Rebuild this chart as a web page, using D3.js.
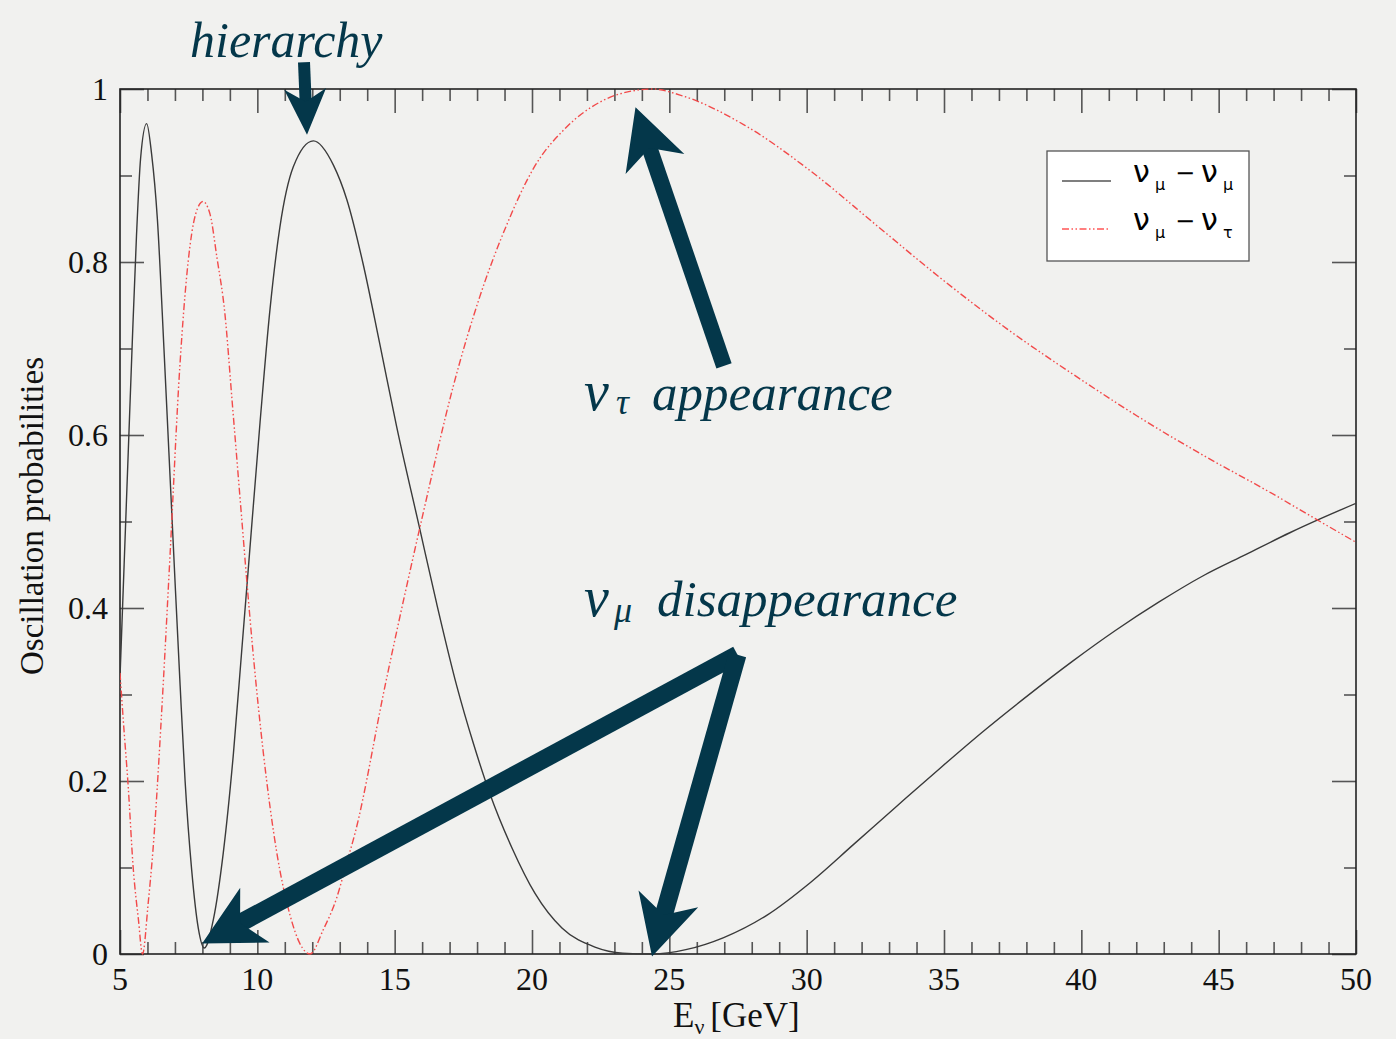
<!DOCTYPE html>
<html>
<head>
<meta charset="utf-8">
<script src="https://cdn.jsdelivr.net/npm/d3@7"></script>
<style>
  html, body { margin: 0; padding: 0; background: #f1f1ef; }
  svg { display: block; }
</style>
</head>
<body>
<svg id="chart" width="1396" height="1039"></svg>
<script>
// Neutrino energy (GeV) and survival probability P(nu_mu -> nu_mu)
const energyMuMu = [5.00, 5.15, 5.30, 5.45, 5.60, 5.75, 5.97, 6.15, 6.36, 6.60, 6.78, 6.90, 7.02, 7.19, 7.37, 7.61, 7.85, 8.07, 8.40, 8.76, 9.13, 9.43, 9.67, 10.10, 10.46, 10.82, 11.31, 12.04, 12.77, 13.26, 13.85, 14.46, 15.07, 15.91, 16.53, 17.26, 17.87, 18.47, 19.28, 20.11, 21.09, 22.29, 23.30, 24.40, 25.60, 26.98, 28.56, 30.15, 31.72, 33.32, 34.90, 36.49, 38.06, 39.66, 41.24, 42.83, 44.42, 46.00, 47.59, 48.69, 50.00];
const probMuMu   = [0.320, 0.450, 0.580, 0.710, 0.830, 0.920, 0.960, 0.925, 0.850, 0.700, 0.580, 0.500, 0.420, 0.310, 0.200, 0.097, 0.030, 0.007, 0.040, 0.117, 0.232, 0.350, 0.445, 0.615, 0.745, 0.840, 0.910, 0.940, 0.912, 0.872, 0.798, 0.705, 0.610, 0.492, 0.405, 0.310, 0.243, 0.185, 0.122, 0.070, 0.030, 0.008, 0.001, 0.000, 0.005, 0.019, 0.045, 0.083, 0.127, 0.172, 0.216, 0.259, 0.299, 0.338, 0.374, 0.407, 0.437, 0.462, 0.487, 0.503, 0.521];

// Appearance probability P(nu_mu -> nu_tau)
const energyMuTau = [5.00, 5.12, 5.30, 5.48, 5.67, 5.82, 6.03, 6.20, 6.57, 6.82, 7.18, 7.48, 7.75, 8.02, 8.28, 8.53, 8.82, 9.08, 9.44, 9.62, 9.84, 10.21, 10.72, 11.19, 11.55, 11.92, 12.40, 12.89, 13.25, 13.56, 14.65, 16.04, 17.13, 18.10, 19.08, 20.05, 21.26, 22.48, 23.69, 24.40, 25.39, 27.75, 30.15, 32.52, 34.89, 37.28, 39.66, 42.03, 44.41, 46.80, 48.69, 50.00];
const probMuTau   = [0.325, 0.270, 0.193, 0.100, 0.040, 0.000, 0.060, 0.120, 0.310, 0.460, 0.680, 0.800, 0.855, 0.870, 0.855, 0.805, 0.740, 0.640, 0.500, 0.430, 0.350, 0.235, 0.115, 0.045, 0.012, 0.000, 0.028, 0.065, 0.105, 0.140, 0.310, 0.510, 0.656, 0.760, 0.843, 0.908, 0.956, 0.985, 0.998, 1.000, 0.993, 0.958, 0.905, 0.843, 0.781, 0.723, 0.671, 0.622, 0.577, 0.535, 0.500, 0.476];

// Axis ticks
const xTickLabels = [5, 10, 15, 20, 25, 30, 35, 40, 45, 50];
const xMinorTicks = d3.range(5, 51, 1);
const yTickLabels = [0, 0.2, 0.4, 0.6, 0.8, 1];
const yMinorTicks = d3.range(0, 1.0001, 0.1).map(v => +v.toFixed(1));

// Legend entries
const legendFrom = ["ν", "ν"];
const legendTo   = ["μ", "τ"];

// Annotation arrows, endpoints in data units [E, P]
const arrowHierarchy   = { from: [11.70, 1.031], to: [11.81, 0.947], shaft: 12 };
const arrowAppearance  = { from: [26.99, 0.680], to: [23.77, 0.979], shaft: 16 };
const arrowDisappLow   = { from: [27.48, 0.346], to: [7.99, 0.012], shaft: 18 };
const arrowDisappHigh  = { from: [27.48, 0.346], to: [24.37, -0.003], shaft: 18 };

const svg = d3.select("#chart");
const W = 1396, H = 1039;
const plot = { left: 120, right: 1356, top: 89, bottom: 954 };

const x = d3.scaleLinear().domain([5, 50]).range([plot.left, plot.right]);
const y = d3.scaleLinear().domain([0, 1]).range([plot.bottom, plot.top]);

svg.append("rect").attr("width", W).attr("height", H).attr("fill", "#f1f1ef");

const serif = "'Liberation Serif', 'Times New Roman', serif";
const ink = "#04374a";

// Ticks (inward on all four sides)
const tickColor = "#555";
function ticks(axisFn, values, size, transform) {
  svg.append("g")
    .attr("transform", transform)
    .call(axisFn.tickValues(values).tickSizeInner(-size).tickSizeOuter(0).tickFormat(""))
    .call(g => g.select(".domain").remove())
    .call(g => g.selectAll("line").attr("stroke", tickColor).attr("stroke-width", 1.6));
}
const xMinor = xMinorTicks.filter(v => v % 5 !== 0);
const yMinor = yMinorTicks.filter(v => Math.round(v * 10) % 2 !== 0);
ticks(d3.axisBottom(x), xMinor, 12, `translate(0,${plot.bottom})`);
ticks(d3.axisBottom(x), xTickLabels, 24, `translate(0,${plot.bottom})`);
ticks(d3.axisTop(x), xMinor, 12, `translate(0,${plot.top})`);
ticks(d3.axisTop(x), xTickLabels, 24, `translate(0,${plot.top})`);
ticks(d3.axisLeft(y), yMinor, 12, `translate(${plot.left},0)`);
ticks(d3.axisLeft(y), yTickLabels, 24, `translate(${plot.left},0)`);
ticks(d3.axisRight(y), yMinor, 12, `translate(${plot.right},0)`);
ticks(d3.axisRight(y), yTickLabels, 24, `translate(${plot.right},0)`);

// Frame
svg.append("rect")
  .attr("x", plot.left).attr("y", plot.top)
  .attr("width", plot.right - plot.left).attr("height", plot.bottom - plot.top)
  .attr("fill", "none").attr("stroke", "#222").attr("stroke-width", 1.6);

// Tick labels
svg.append("g").selectAll("text").data(xTickLabels).join("text")
  .attr("x", d => x(d)).attr("y", 990)
  .attr("text-anchor", "middle")
  .attr("font-family", serif).attr("font-size", 32).attr("fill", "#111")
  .text(d => d);
svg.append("g").selectAll("text").data(yTickLabels).join("text")
  .attr("x", 108).attr("y", d => y(d) + 11)
  .attr("text-anchor", "end")
  .attr("font-family", serif).attr("font-size", 32).attr("fill", "#111")
  .text(d => d3.format("")(d));

// Axis titles
const xt = svg.append("text").attr("x", 673).attr("y", 1027)
  .attr("font-family", serif).attr("font-size", 35).attr("fill", "#111");
xt.append("tspan").text("E");
xt.append("tspan").attr("font-size", 22).attr("dy", 7).text("ν");
xt.append("tspan").attr("dy", -7).attr("dx", 6).text("[GeV]");

svg.append("text")
  .attr("transform", "translate(43,516) rotate(-90)")
  .attr("text-anchor", "middle")
  .attr("font-family", serif).attr("font-size", 33).attr("fill", "#111")
  .text("Oscillation probabilities");

// Curves
svg.append("clipPath").attr("id", "plotClip").append("rect")
  .attr("x", plot.left).attr("y", plot.top - 2)
  .attr("width", plot.right - plot.left).attr("height", plot.bottom - plot.top + 4);

const line = d3.line()
  .x(d => x(d[0])).y(d => y(d[1]))
  .curve(d3.curveMonotoneX);

svg.append("path")
  .datum(d3.zip(energyMuMu, probMuMu))
  .attr("clip-path", "url(#plotClip)")
  .attr("d", line)
  .attr("fill", "none").attr("stroke", "#3a3a3a").attr("stroke-width", 1.4);

const dashDot = "7,2.5,1.5,2.5,1.5,2.5";
svg.append("path")
  .datum(d3.zip(energyMuTau, probMuTau))
  .attr("clip-path", "url(#plotClip)")
  .attr("d", line)
  .attr("fill", "none").attr("stroke", "#f24a4a").attr("stroke-width", 1.4)
  .attr("stroke-dasharray", dashDot);

// Legend
const lg = svg.append("g");
lg.append("rect").attr("x", 1047).attr("y", 151).attr("width", 202).attr("height", 110)
  .attr("fill", "#fff").attr("stroke", "#555").attr("stroke-width", 1.3);
lg.append("line").attr("x1", 1062).attr("x2", 1111).attr("y1", 181).attr("y2", 181)
  .attr("stroke", "#000").attr("stroke-width", 1.2);
lg.append("line").attr("x1", 1062).attr("x2", 1109).attr("y1", 229).attr("y2", 229)
  .attr("stroke", "#f00").attr("stroke-width", 1.2).attr("stroke-dasharray", dashDot);
const sans = "'DejaVu Sans', sans-serif";
legendTo.forEach((sub, i) => {
  const by = 182 + i * 48;
  const t = lg.append("text").attr("y", by).attr("font-family", sans).attr("fill", "#000");
  t.append("tspan").attr("x", 1133).attr("font-size", 30).text(legendFrom[i]);
  t.append("tspan").attr("x", 1155).attr("dy", 8).attr("font-size", 16).text("μ");
  t.append("tspan").attr("x", 1175).attr("dy", -9).attr("font-size", 24).text("−");
  t.append("tspan").attr("x", 1201).attr("dy", 1).attr("font-size", 30).text("ν");
  t.append("tspan").attr("x", 1223).attr("dy", 8).attr("font-size", 16).text(sub);
});

// Annotation arrows: shaft and head drawn as two separate polygons
function arrowParts(a) {
  const A = [x(a.from[0]), y(a.from[1])];
  const T = [x(a.to[0]), y(a.to[1])];
  const dx = T[0] - A[0], dy = T[1] - A[1];
  const len = Math.hypot(dx, dy);
  const u = [dx / len, dy / len];
  const n = [-u[1], u[0]];
  const headLen = a.shaft < 14 ? 46 : 60;
  const headHalf = a.shaft < 14 ? 21 : 31;
  const notch = headLen * 0.72;
  const w = a.shaft / 2;
  const at = (d, o) => [T[0] - u[0] * d + n[0] * o, T[1] - u[1] * d + n[1] * o];
  const poly = p => "M" + p.map(q => q[0].toFixed(1) + "," + q[1].toFixed(1)).join("L") + "Z";
  return [
    poly([at(len, w), at(notch - 4, w), at(notch - 4, -w), at(len, -w)]),
    poly([T, at(headLen, headHalf), at(notch, 0), at(headLen, -headHalf)])
  ];
}
svg.append("g").selectAll("path")
  .data([arrowHierarchy, arrowAppearance, arrowDisappLow, arrowDisappHigh].flatMap(arrowParts))
  .join("path")
  .attr("d", d => d)
  .attr("fill", ink);

// Annotation labels
const ann = svg.append("g").attr("font-family", serif).attr("font-style", "italic").attr("fill", ink);
ann.append("text").attr("x", 190).attr("y", 57).attr("font-size", 50).text("hierarchy");

ann.append("text").attr("x", 584).attr("y", 410).attr("font-size", 56).text("ν");
ann.append("text").attr("x", 616).attr("y", 414).attr("font-size", 36).text("τ");
ann.append("text").attr("x", 652).attr("y", 410).attr("font-size", 51).text("appearance");

ann.append("text").attr("x", 584).attr("y", 616).attr("font-size", 56).text("ν");
ann.append("text").attr("x", 614).attr("y", 622).attr("font-size", 36).text("μ");
ann.append("text").attr("x", 657).attr("y", 616).attr("font-size", 51).text("disappearance");
</script>
</body>
</html>
